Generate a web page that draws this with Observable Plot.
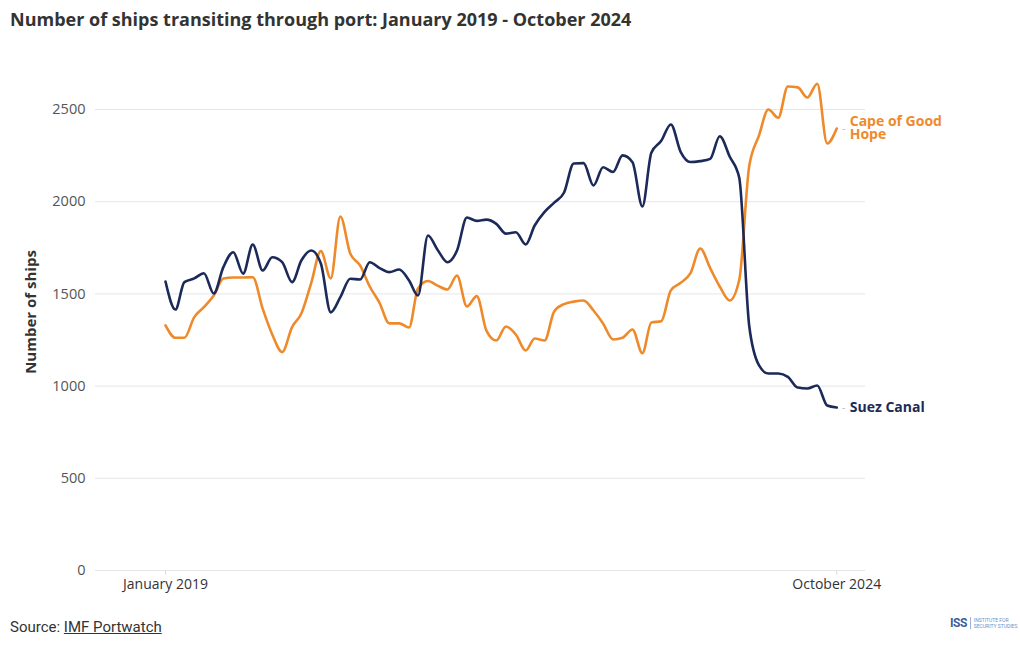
<!DOCTYPE html>
<html>
<head>
<meta charset="utf-8">
<script src="https://cdn.jsdelivr.net/npm/d3@7"></script>
<script src="https://cdn.jsdelivr.net/npm/@observablehq/plot@0.6"></script>
<style>
  html, body { margin: 0; padding: 0; background: #fff; }
  body { width: 1020px; height: 650px; position: relative; overflow: hidden; font-family: Roboto, "Noto Sans", sans-serif; }
  #title { position: absolute; left: 10px; top: 8px; font-family: "Open Sans", Roboto, sans-serif; font-size: 18px; line-height: 22px; font-weight: 700; color: #333; white-space: nowrap; }
  #ytitle { position: absolute; left: 30px; top: 312px; width: 200px; margin-left: -100px; margin-top: -10px; height: 20px; line-height: 20px; text-align: center; transform: rotate(-90deg); font-family: "Open Sans", Roboto, sans-serif; font-size: 15px; font-weight: 700; color: #333; white-space: nowrap; }
  #chart { position: absolute; left: 0; top: 40px; }
  #source { position: absolute; left: 10px; top: 617px; font-size: 15px; line-height: 20px; color: #333; }
  #source span { text-decoration: underline; }
  #logo { position: absolute; left: 950px; top: 616px; display: flex; align-items: center; gap: 3px; color: #3a5f9c; }
  #logo b { font-size: 12px; letter-spacing: -0.5px; }
  #logo i { font-style: normal; font-size: 5px; line-height: 6px; color: #6f8fbf; border-left: 1px solid #9fb3d3; padding-left: 3px; }
</style>
</head>
<body>
<div id="title">Number of ships transiting through port: January 2019 - October 2024</div>
<div id="chart"></div>
<div id="ytitle">Number of ships</div>
<div id="source">Source: <span>IMF Portwatch</span></div>
<div id="logo"><b>ISS</b><i>INSTITUTE FOR<br>SECURITY STUDIES</i></div>
<script>
// ---- data (monthly, January 2019 – October 2024) ----
const firstMonth = "2019-01-01";
const lastMonth = "2024-10-01";

const suezCanal = [
  1567, 1415, 1564, 1584, 1612, 1502, 1645, 1726, 1610, 1768, 1627, 1699,
  1672, 1564, 1681, 1735, 1665, 1400, 1482, 1582, 1578, 1672, 1640, 1618,
  1632, 1573, 1491, 1817, 1740, 1672, 1735, 1914, 1896, 1903, 1880, 1827,
  1834, 1768, 1871, 1945, 1995, 2050, 2207, 2209, 2088, 2187, 2161, 2251,
  2214, 1974, 2265, 2330, 2419, 2269, 2215, 2220, 2232, 2355, 2245, 2130,
  1330, 1112, 1068, 1068, 1050, 992, 987, 1003, 895, 884
];

const capeOfGoodHope = [
  1329, 1262, 1262, 1374, 1428, 1491, 1584, 1589, 1589, 1590, 1420, 1280,
  1184, 1320, 1394, 1560, 1732, 1584, 1920, 1719, 1654, 1540, 1450, 1340,
  1340, 1318, 1530, 1570, 1545, 1524, 1600, 1432, 1488, 1301, 1247, 1323,
  1280, 1193, 1258, 1247, 1405, 1445, 1458, 1464, 1410, 1340, 1253, 1262,
  1307, 1178, 1345, 1352, 1519, 1560, 1611, 1746, 1640, 1540, 1464, 1575,
  2190, 2360, 2500, 2455, 2625, 2620, 2565, 2640, 2316, 2397
];

const seriesNames = ["Cape of Good Hope", "Suez Canal"];
const seriesLabels = ["Cape of Good\nHope", "Suez Canal"];
const seriesColors = ["#ef8a2b", "#1b2a59"];
const yTicks = [0, 500, 1000, 1500, 2000, 2500];
const xTickLabels = ["January 2019", "October 2024"];

// ---- build table ----
const months = d3.utcMonth.range(new Date(firstMonth), d3.utcMonth.offset(new Date(lastMonth), 1));
const values = [capeOfGoodHope, suezCanal];
const rows = [];
seriesNames.forEach((name, s) => {
  months.forEach((date, i) => rows.push({ date, value: values[s][i], route: name }));
});
const lastPoints = seriesNames.map((name, s) => ({
  date: months[months.length - 1],
  value: values[s][values[s].length - 1],
  route: name,
  label: seriesLabels[s]
}));
const xTicks = [months[0], months[months.length - 1]];
const fmt = new Map(xTicks.map((d, i) => [+d, xTickLabels[i]]));

const chart = Plot.plot({
  width: 1020,
  height: 560,
  marginLeft: 95,
  marginRight: 155,
  marginTop: 32.12,
  marginBottom: 30,
  style: { fontFamily: "'Open Sans', Roboto, sans-serif", background: "transparent", overflow: "visible" },
  x: { type: "utc", domain: [new Date("2018-05-27"), new Date("2024-12-30")] },
  y: { domain: [0, 2700] },
  color: { domain: seriesNames, range: seriesColors },
  marks: [
    Plot.gridY(yTicks, { stroke: "#e6e6e6", strokeOpacity: 1, strokeWidth: 1 }),
    Plot.axisY({ ticks: yTicks, tickSize: 0, tickPadding: 10, fontSize: 14.5, fill: "#555", label: null, tickFormat: d => String(d) }),
    Plot.axisX({ ticks: xTicks, tickSize: 5, tickPadding: 4, stroke: "#ddd", fill: "#333", fontSize: 14, label: null, tickFormat: d => fmt.get(+d) }),
    Plot.line(rows, { x: "date", y: "value", z: "route", stroke: "route", strokeWidth: 2.6, curve: "monotone-x" }),
    Plot.text(lastPoints, { x: "date", y: "value", text: () => "-", dx: 7, fill: "#b5b5b5", fontSize: 10 }),
    Plot.text(lastPoints, { x: "date", y: "value", text: "label", fill: "route", dx: 13, textAnchor: "start", fontSize: 14, fontWeight: 700, lineHeight: 0.95 })
  ]
});
document.getElementById("chart").append(chart);
</script>
</body>
</html>
